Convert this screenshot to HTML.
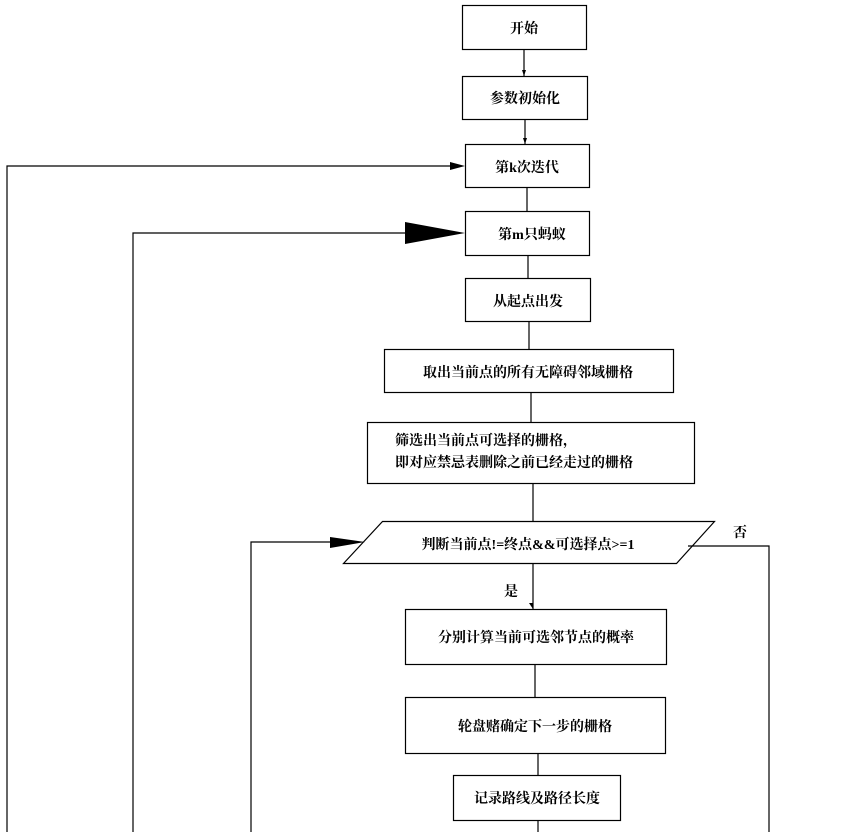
<!DOCTYPE html>
<html><head><meta charset="utf-8"><style>
html,body{margin:0;padding:0;background:#fff;}
svg{display:block}
text{font-family:"Liberation Serif","Noto Serif CJK SC",serif;font-weight:bold;font-size:14px;fill:#000}
</style></head><body>
<svg width="852" height="832" viewBox="0 0 852 832" xmlns="http://www.w3.org/2000/svg">
<g fill="none" stroke="#000" stroke-width="1.2">
<rect x="462.5" y="5.5" width="124" height="44"/>
<rect x="462.5" y="76.5" width="125" height="43"/>
<rect x="465.5" y="144.5" width="124" height="43"/>
<rect x="465.5" y="211.5" width="124" height="44"/>
<rect x="465.5" y="278.5" width="125" height="43"/>
<rect x="384.5" y="349.5" width="289" height="43"/>
<rect x="367.5" y="422.5" width="327" height="61"/>
<polygon points="382.5,521.5 714.5,521.5 676.5,563.5 343.5,563.5"/>
<rect x="405.5" y="609.5" width="261" height="55"/>
<rect x="405.5" y="697.5" width="260" height="56"/>
<rect x="453.5" y="775.5" width="167" height="45"/>
<!-- vertical connectors -->
<line x1="524" y1="50" x2="524" y2="76"/>
<line x1="525" y1="120" x2="525" y2="144"/>
<line x1="527" y1="188" x2="527" y2="211"/>
<line x1="528" y1="256" x2="528" y2="278"/>
<line x1="529" y1="322" x2="529" y2="349"/>
<line x1="531" y1="393" x2="531" y2="422"/>
<line x1="533" y1="484" x2="533" y2="521"/>
<line x1="533" y1="564" x2="533" y2="609"/>
<line x1="535" y1="665" x2="535" y2="697"/>
<line x1="538" y1="754" x2="538" y2="775"/>
<line x1="538" y1="821" x2="538" y2="832"/>
<!-- loops -->
<polyline points="7,832 7,166 452,166"/>
<polyline points="133,832 133,233 410,233"/>
<polyline points="251,832 251,542 335,542"/>
<polyline points="688,546 769,546 769,832"/>
</g>
<g fill="#000">
<polygon points="450,162 465,166 450,170"/>
<polygon points="405,222 465,233 405,244"/>
<polygon points="330,537 365,542 330,548"/>
<polygon points="522,70 526,70 524,76"/>
<polygon points="523,138 527,138 525,144"/>
<polygon points="529,603 533,603 533,609"/>
</g>
<text x="524" y="33" text-anchor="middle">开始</text>
<text x="525" y="103" text-anchor="middle">参数初始化</text>
<text x="527" y="172" text-anchor="middle">第k次迭代</text>
<text x="532" y="239" text-anchor="middle">第m只蚂蚁</text>
<text x="528" y="306" text-anchor="middle">从起点出发</text>
<text x="528" y="377" text-anchor="middle">取出当前点的所有无障碍邻域栅格</text>
<text x="395" y="445">筛选出当前点可选择的栅格，</text>
<text x="395" y="467">即对应禁忌表删除之前已经走过的栅格</text>
<text x="528" y="549" text-anchor="middle">判断当前点!=终点&amp;&amp;可选择点&gt;=1</text>
<text x="733" y="537">否</text>
<text x="504" y="596">是</text>
<text x="536" y="642" text-anchor="middle">分别计算当前可选邻节点的概率</text>
<text x="535" y="731" text-anchor="middle">轮盘赌确定下一步的栅格</text>
<text x="537" y="803" text-anchor="middle">记录路线及路径长度</text>
</svg>
</body></html>
